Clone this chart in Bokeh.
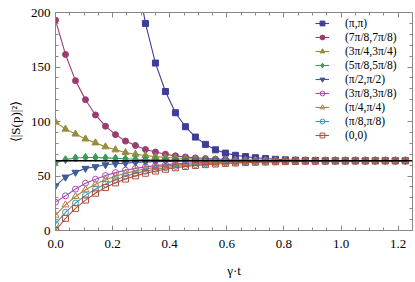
from bokeh.plotting import figure
from bokeh.models import (Legend, LegendItem, LinearAxis, Range1d, FixedTicker,
                          NumeralTickFormatter, Span, CustomJSTickFormatter)
from bokeh.embed import file_html
from bokeh.resources import INLINE

# ---- data ----
t = [0.0, 0.035, 0.07, 0.105, 0.14, 0.175, 0.21, 0.245, 0.28, 0.315, 0.35, 0.385,
     0.42, 0.455, 0.49, 0.525, 0.56, 0.595, 0.63, 0.665, 0.7, 0.735, 0.77, 0.805,
     0.84, 0.875, 0.91, 0.945, 0.98, 1.015, 1.05, 1.085, 1.12, 1.155, 1.19, 1.225]

asymptote = 64

t_pipi = t[8:]
s_pipi = [241, 190, 153.6, 127.5, 108, 95.2, 85.7, 79, 74, 71, 69, 67.8, 66.8, 66,
          65.3, 64.8, 64.5, 64.3, 64.2, 64.1, 64, 64, 64, 64, 64, 64, 64, 64]
s_7pi8 = [193, 161.5, 137.5, 120, 106, 95.7, 88, 82, 78, 74.3, 72, 70, 68.5, 67.4,
          66.6, 66, 65.5, 65.1, 64.8, 64.6, 64.4, 64.3, 64.2, 64.2, 64.1, 64.1, 64.1,
          64, 64, 64, 64, 64, 64, 64, 64, 64]
s_3pi4 = [99.5, 93, 88.5, 84, 80.4, 76.8, 74, 71.6, 70, 68.8, 67.8, 67.1, 66.5, 66,
          65.6, 65.3, 65, 64.8, 64.6, 64.5, 64.4, 64.3, 64.2, 64.2, 64.1, 64.1, 64,
          64, 64, 64, 64, 64, 64, 64, 64, 64]
s_5pi8 = [62, 65, 66.5, 67, 67, 66.6, 66.2, 65.8, 65.4, 65.1, 64.9, 64.7, 64.5, 64.4,
          64.3, 64.2, 64.2, 64.1, 64, 64, 64, 64, 64, 64, 64, 64, 64, 64, 64, 64, 64,
          64, 64, 64, 64, 64]
s_pi2 = [41, 49, 53.4, 57, 58.5, 60.3, 61.2, 61.8, 62.4, 62.8, 63.1, 63.4, 63.6, 63.7,
         63.8, 63.9, 64, 64, 64, 64, 64, 64, 64, 64, 64, 64, 64, 64, 64, 64, 64, 64,
         64, 64, 64, 64]
s_3pi8 = [26, 31.8, 38, 43.4, 47, 50.4, 53.1, 55.3, 57, 58.4, 59.5, 60.4, 61.1, 61.7,
          62.2, 62.5, 62.8, 63.1, 63.3, 63.4, 63.5, 63.6, 63.7, 63.8, 63.8, 63.9, 63.9,
          64, 64, 64, 64, 64, 64, 64, 64, 64]
s_pi4 = [14, 23.5, 31.2, 37.4, 42.5, 46.6, 49.9, 52.6, 54.7, 56.5, 57.9, 59.1, 60,
         60.8, 61.4, 61.9, 62.3, 62.6, 62.9, 63.1, 63.3, 63.4, 63.5, 63.6, 63.7, 63.7,
         63.8, 63.8, 63.9, 63.9, 63.9, 64, 64, 64, 64, 64]
s_pi8 = [6, 16.6, 25.2, 32.2, 38, 42.7, 46.6, 49.8, 52.4, 54.5, 56.2, 57.6, 58.8, 59.7,
         60.5, 61.1, 61.7, 62.1, 62.4, 62.7, 62.9, 63.1, 63.3, 63.4, 63.5, 63.6, 63.7,
         63.7, 63.8, 63.8, 63.9, 63.9, 63.9, 64, 64, 64]
s_00 = [0, 11.1, 20.3, 27.9, 34.2, 39.4, 43.7, 47.2, 50.1, 52.5, 54.5, 56.2, 57.5,
        58.7, 59.6, 60.4, 61, 61.5, 61.9, 62.3, 62.6, 62.8, 63, 63.2, 63.3, 63.5, 63.5,
        63.6, 63.7, 63.7, 63.8, 63.8, 63.9, 63.9, 63.9, 64]

labels = ["(\u03c0,\u03c0)", "(7\u03c0/8,7\u03c0/8)", "(3\u03c0/4,3\u03c0/4)",
          "(5\u03c0/8,5\u03c0/8)", "(\u03c0/2,\u03c0/2)", "(3\u03c0/8,3\u03c0/8)",
          "(\u03c0/4,\u03c0/4)", "(\u03c0/8,\u03c0/8)", "(0,0)"]

x_ticks = [0.0, 0.2, 0.4, 0.6, 0.8, 1.0, 1.2]
x_minor = [0.05, 0.1, 0.15, 0.25, 0.3, 0.35, 0.45, 0.5, 0.55, 0.65, 0.7, 0.75,
           0.85, 0.9, 0.95, 1.05, 1.1, 1.15, 1.25]
y_ticks = [0, 50, 100, 150, 200]
y_minor = [10, 20, 30, 40, 60, 70, 80, 90, 110, 120, 130, 140, 160, 170, 180, 190]

series = [
    (t_pipi, s_pipi, "#3F3D99", "square", True),
    (t, s_7pi8, "#993D71", "circle", True),
    (t, s_3pi4, "#998B3D", "triangle", True),
    (t, s_5pi8, "#3D9956", "diamond", True),
    (t, s_pi2, "#3D5A99", "inverted_triangle", True),
    (t, s_3pi8, "#A848B8", "circle", False),
    (t, s_pi4, "#B0804A", "triangle", False),
    (t, s_pi8, "#3F95B0", "circle", False),
    (t, s_00, "#B0503F", "square", False),
]

SERIF = "'Liberation Serif'"
GRAY = "#888888"

p = figure(width=413, height=280, output_backend="svg", toolbar_location=None,
           x_range=Range1d(0, 1.25), y_range=Range1d(0, 200))
p.min_border_left = 55
p.min_border_top = 12
p.min_border_right = 1
p.min_border_bottom = 48
p.background_fill_color = "white"
p.border_fill_color = "white"
p.outline_line_color = GRAY
p.xgrid.visible = False
p.ygrid.visible = False

p.add_layout(Span(location=asymptote, dimension="width", line_color="black",
                  line_width=1.6))

items = []
for (xs, ys, col, mk, filled), lab in zip(series, labels):
    r1 = p.line(xs, ys, line_color=col, line_width=1.1)
    size = 7 if mk in ("triangle", "inverted_triangle") else 6
    if mk == "diamond":
        size = 8
    r2 = p.scatter(xs, ys, marker=mk, size=size, line_color=col,
                   fill_color=col if filled else None, line_width=1)
    items.append(LegendItem(label=lab, renderers=[r1, r2]))

# axes styling
for ax in (p.xaxis[0], p.yaxis[0]):
    ax.axis_line_color = GRAY
    ax.major_tick_line_color = GRAY
    ax.minor_tick_line_color = GRAY
    ax.major_tick_in = 5
    ax.major_tick_out = 0
    ax.minor_tick_in = 3
    ax.minor_tick_out = 0
    ax.major_label_text_font = SERIF
    ax.major_label_text_font_size = "13px"
    ax.major_label_text_color = "black"
    ax.axis_label_text_font = SERIF
    ax.axis_label_text_font_style = "normal"
    ax.axis_label_text_font_size = "13px"
    ax.axis_label_text_color = "black"

p.xaxis[0].ticker = FixedTicker(ticks=x_ticks, minor_ticks=x_minor)
p.xaxis[0].formatter = NumeralTickFormatter(format="0.0")
p.xaxis[0].axis_label = "\u03b3\u00b7t"
p.xaxis[0].major_label_standoff = 9
p.xaxis[0].axis_label_standoff = 12

p.yaxis[0].ticker = FixedTicker(ticks=y_ticks, minor_ticks=y_minor)
p.yaxis[0].axis_label = "\u27e8|S(p)|\u00b2\u27e9"
p.yaxis[0].major_label_standoff = 5
p.yaxis[0].axis_label_standoff = 5

# mirrored frame ticks (no labels)
blank = CustomJSTickFormatter(code="return ''")
top = LinearAxis(ticker=FixedTicker(ticks=x_ticks, minor_ticks=x_minor), formatter=blank)
right = LinearAxis(ticker=FixedTicker(ticks=y_ticks, minor_ticks=y_minor), formatter=blank)
for ax in (top, right):
    ax.axis_line_color = GRAY
    ax.major_tick_line_color = GRAY
    ax.minor_tick_line_color = GRAY
    ax.major_tick_in = 5
    ax.major_tick_out = 0
    ax.minor_tick_in = 3
    ax.minor_tick_out = 0
    ax.major_label_standoff = 0
p.add_layout(top, "above")
p.add_layout(right, "right")

legend = Legend(items=items, location=(260, 89))
legend.label_text_font = SERIF
legend.label_text_font_size = "11.5px"
legend.label_text_color = "black"
legend.label_height = 12
legend.glyph_height = 12
legend.glyph_width = 14
legend.label_standoff = 16
legend.spacing = 2
legend.padding = 4
legend.margin = 0
legend.border_line_color = None
legend.background_fill_alpha = 0
p.add_layout(legend)

open("out.html", "w").write(file_html(p, INLINE))
